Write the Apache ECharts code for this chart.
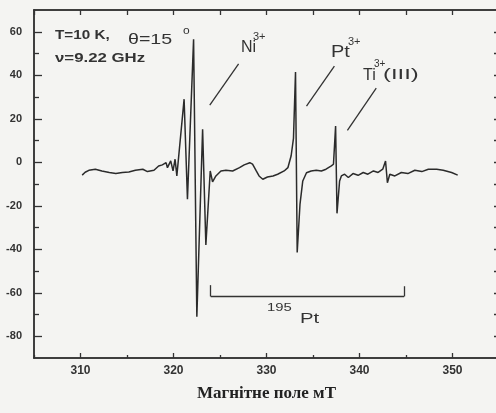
<!DOCTYPE html>
<html>
<head>
<meta charset="utf-8">
<script src="https://cdn.jsdelivr.net/npm/echarts@6/dist/echarts.min.js"></script>
<style>
    html, body { margin: 0; padding: 0; background: #f4f4f2; }
    #epr { width: 496px; height: 413px; }
</style>
</head>
<body>
<div id="epr"></div>
<script>
    // EPR spectrum, T=10 K, v=9.22 GHz
    const fieldMT = [
        310.18, 310.5, 310.9, 311.6, 312.3, 313.1, 313.8, 314.5, 315.2, 315.9,
        316.7, 317.2, 317.9, 318.4, 318.8, 319.2, 319.35, 319.7, 319.95, 320.17,
        320.36, 321.14, 321.5, 322.16, 322.51, 323.13, 323.48, 323.95, 324.2, 324.56,
        325.1, 325.64, 326.36, 327.1, 327.6, 328.2, 328.5, 328.9, 329.2, 329.6,
        330.1, 330.7, 331.2, 331.9, 332.3, 332.65, 332.9, 333.12, 333.3, 333.6,
        333.9, 334.3, 334.8, 335.35, 335.9, 336.4, 336.97, 337.2, 337.43, 337.58,
        337.86, 338.05, 338.4, 338.8, 339.3, 339.85, 340.4, 340.9, 341.5, 342.0,
        342.5, 342.8, 343.0, 343.26, 343.8, 344.5, 345.2, 345.95, 346.7, 347.4,
        348.3, 349.0, 349.9, 350.56
    ]
    const signal = [
        -5.9, -4.6, -3.7, -3.2, -4.0, -4.7, -5.2, -4.7, -4.5, -3.7,
        -3.2, -4.3, -3.7, -1.7, -1.2, -0.2, -2.5, 0.6, -4.0, 1.4,
        -6.3, 29.0, -17.0, 56.5, -71.0, 15.2, -38.0, -4.0, -9.0, -6.3,
        -4.0, -3.7, -4.0, -2.5, -1.2, -0.2, -0.9, -4.0, -6.3, -7.8,
        -6.8, -6.3, -5.5, -4.0, -2.5, 3.0, 11.0, 41.5, -41.5, -19.4,
        -8.6, -4.8, -4.0, -3.7, -4.0, -3.2, -1.7, -0.9, 16.7, -23.5,
        -8.6, -6.3, -5.5, -7.0, -5.2, -6.0, -4.7, -5.5, -4.0, -4.7,
        -3.2, 0.6, -9.4, -5.5, -6.3, -4.7, -5.2, -3.7, -4.3, -3.2,
        -3.2, -3.7, -4.7, -5.9
    ]
    const xMajor = [310, 320, 330, 340, 350]
    const xMinor = [305, 315, 325, 335, 345]
    const yMajor = [-80, -60, -40, -20, 0, 20, 40, 60]
    const yMinor = [-70, -50, -30, -10, 10, 30, 50]

    const ink = '#333'
    const frame = { show: true, onZero: false, lineStyle: { color: ink, width: 1.5 } }

    // one axis per tick set so major and minor ticks can differ in length
    function xAx (pos, ticks, len, labels) {
        return {
            type: 'value', position: pos, min: 305, max: 355,
            axisLine: frame,
            splitLine: { show: false },
            axisTick: { show: true, inside: true, length: len, customValues: ticks, lineStyle: { color: ink, width: 1.3 } },
            axisLabel: labels ? {
                show: true, customValues: ticks, margin: 7,
                fontSize: 12, fontWeight: 'bold', color: ink, fontFamily: 'Liberation Sans'
            } : { show: false }
        }
    }
    function yAx (pos, ticks, len, labels) {
        return {
            type: 'value', position: pos, min: -90, max: 70,
            axisLine: frame,
            splitLine: { show: false },
            axisTick: { show: true, inside: true, length: len, customValues: ticks, lineStyle: { color: ink, width: 1.3 } },
            axisLabel: labels ? {
                show: true, customValues: ticks, margin: 12,
                fontSize: 11, fontWeight: 'bold', color: ink, fontFamily: 'Liberation Sans'
            } : { show: false }
        }
    }

    const xBottom = xAx('bottom', xMajor, 5, true)
    xBottom.name = 'Магнітне поле мТ'
    xBottom.nameLocation = 'middle'
    xBottom.nameGap = 27
    xBottom.nameTextStyle = { fontFamily: 'Liberation Serif', fontWeight: 'bold', fontSize: 17, color: '#222' }

    function txt (s, x, y, size, sx, weight) {
        return {
            type: 'text', x: x, y: y, scaleX: sx || 1, silent: true,
            style: {
                text: s, fill: ink, fontSize: size, fontWeight: weight || 'normal',
                fontFamily: 'Liberation Sans',
                align: 'left', verticalAlign: 'middle', textAlign: 'left', textVerticalAlign: 'middle'
            }
        }
    }

    const seg = (a, b) => [{ coord: a }, { coord: b }]

    let chart = echarts.init(document.getElementById('epr'))
    chart.setOption({
        animation: false,
        backgroundColor: '#f4f4f2',
        grid: { left: 34, right: -3, top: 10, bottom: 55, containLabel: false, outerBoundsMode: 'none' },
        xAxis: [
            xBottom,
            xAx('bottom', xMinor, 3, false),
            xAx('top', xMajor, 5, false),
            xAx('top', xMinor, 5, false)
        ],
        yAxis: [
            yAx('left', yMajor, 8, true),
            yAx('left', yMinor, 5, false),
            yAx('right', yMajor, 5, false),
            yAx('right', yMinor, 5, false)
        ],
        series: [
            {
                name: 'EPR',
                type: 'line',
                xAxisIndex: 0,
                yAxisIndex: 0,
                showSymbol: false,
                data: fieldMT.map((f, i) => [f, signal[i]]),
                lineStyle: { color: '#2b2b2b', width: 1.5 },
                markLine: {
                    silent: true,
                    symbol: ['none', 'none'],
                    label: { show: false },
                    lineStyle: { color: ink, width: 1.3, type: 'solid' },
                    data: [
                        seg([323.9, 26.3], [327.0, 45.2]),
                        seg([334.3, 25.8], [337.3, 44.2]),
                        seg([338.7, 14.7], [341.8, 34.1]),
                        seg([324.0, -61.7], [344.8, -61.7]),
                        seg([324.0, -61.7], [324.0, -56.5]),
                        seg([344.8, -61.7], [344.8, -57.0])
                    ]
                }
            }
        ],
        graphic: [
            txt('T=10 K,', 55, 36, 12, 1.27, 'bold'),
            txt('θ=15', 128, 40, 14, 1.4),
            txt('o', 183, 31, 10, 1.2),
            txt('ν=9.22 GHz', 55, 59, 12, 1.4, 'bold'),
            txt('Ni', 241, 48, 16, 1.0),
            txt('3+', 253, 37, 10, 1.1),
            txt('Pt', 331, 53, 16, 1.25),
            txt('3+', 348, 42, 10, 1.1),
            txt('Ti', 363, 76, 16, 1.0),
            txt('3+', 374, 64, 10, 1.0),
            txt('(III)', 383, 75, 14, 1.7),
            txt('195', 267, 308, 11, 1.35),
            txt('Pt', 300, 319, 14, 1.45)
        ]
    })
</script>
</body>
</html>
